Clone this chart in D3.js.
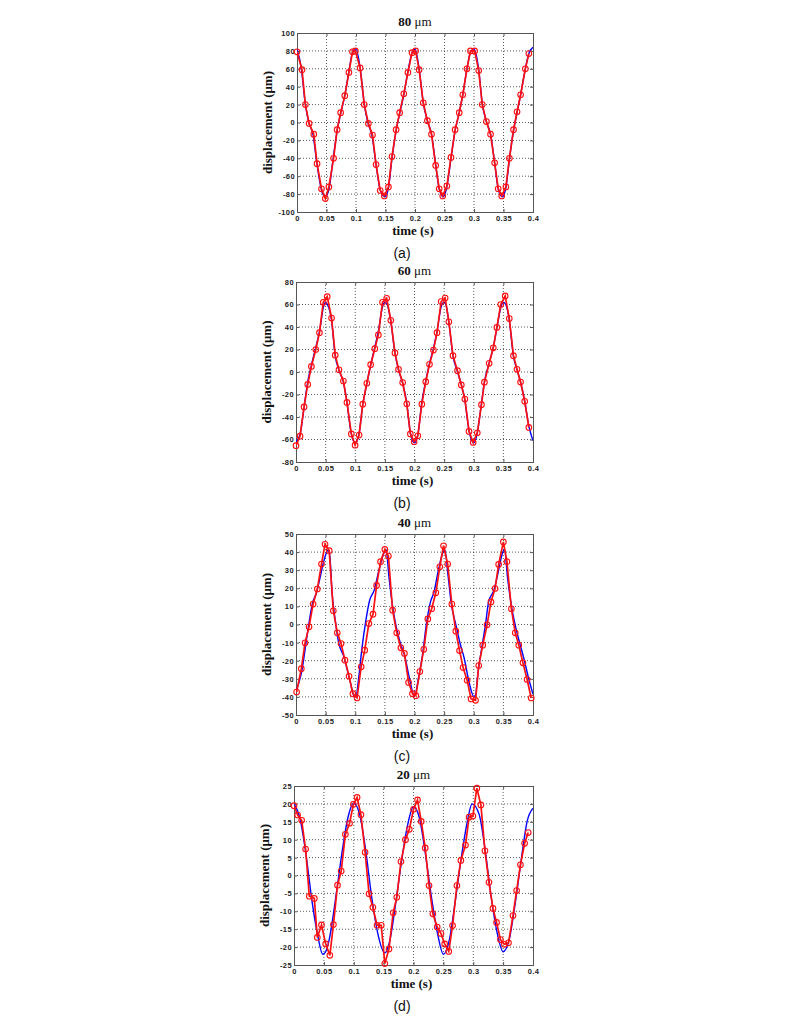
<!DOCTYPE html>
<html>
<head>
<meta charset="utf-8">
<script src="https://cdn.jsdelivr.net/npm/d3@7"></script>
<style>
  html, body { margin: 0; padding: 0; background: #fff; }
  svg { display: block; }
</style>
</head>
<body>
<svg id="chart" width="800" height="1017"></svg>
<script>
// ---------- data ----------
const panelTitles = ["80", "60", "40", "20"];
const panelCaptions = ["(a)", "(b)", "(c)", "(d)"];
const xTicks = [0, 0.05, 0.1, 0.15, 0.2, 0.25, 0.3, 0.35, 0.4];
const yTicksA = [-100, -80, -60, -40, -20, 0, 20, 40, 60, 80, 100];
const yTicksB = [-80, -60, -40, -20, 0, 20, 40, 60, 80];
const yTicksC = [-50, -40, -30, -20, -10, 0, 10, 20, 30, 40, 50];
const yTicksD = [-25, -20, -15, -10, -5, 0, 5, 10, 15, 20, 25];

// measured (red, circles) : [time s, displacement um]
const measuredA = [[0,79],[0.0085,59],[0.0142,20],[0.0205,-1],[0.0284,-13],[0.034,-46],[0.0415,-74],[0.048,-85],[0.054,-72],[0.062,-40],[0.068,-8],[0.074,11],[0.081,30],[0.088,56],[0.094,79],[0.099,80],[0.107,61],[0.114,20],[0.121,-1],[0.128,-14],[0.134,-47],[0.141,-76],[0.148,-82],[0.155,-72],[0.161,-38],[0.168,-8],[0.174,11],[0.181,32],[0.188,56],[0.195,78],[0.201,80],[0.207,59],[0.214,22],[0.221,2],[0.228,-13],[0.235,-48],[0.241,-74],[0.247,-82],[0.254,-71],[0.261,-39],[0.268,-8],[0.275,11],[0.281,31],[0.288,60],[0.294,80],[0.301,80],[0.308,58],[0.314,20],[0.321,1],[0.328,-13],[0.335,-45],[0.341,-74],[0.347,-82],[0.354,-72],[0.36,-40],[0.367,-8],[0.373,12],[0.379,31],[0.387,60],[0.393,77]];
const measuredB = [[0,-65.5],[0.0068,-57],[0.0136,-31],[0.0198,-11],[0.026,5],[0.0334,20],[0.0396,35],[0.046,62],[0.0527,67],[0.06,48],[0.0662,15],[0.0725,2],[0.08,-8],[0.086,-27],[0.0934,-55],[0.0997,-65],[0.1065,-56],[0.1127,-28.6],[0.1195,-10],[0.126,6.5],[0.133,20.7],[0.139,33],[0.146,62],[0.153,65.5],[0.16,46],[0.167,17],[0.173,2.4],[0.18,-9.4],[0.187,-28.3],[0.193,-55],[0.1994,-62],[0.2056,-56.7],[0.2124,-28.6],[0.219,-8.6],[0.2253,6.8],[0.232,19.5],[0.238,35],[0.245,62.6],[0.2517,65.8],[0.258,44.6],[0.265,14.5],[0.2725,1.2],[0.279,-11.5],[0.285,-24],[0.292,-52.8],[0.299,-62.6],[0.306,-54],[0.313,-29],[0.318,-9],[0.326,7.7],[0.333,21.5],[0.339,39.6],[0.3455,60],[0.353,67.6],[0.36,47.5],[0.367,14.5],[0.373,2.4],[0.379,-8.9],[0.386,-26],[0.393,-49.3]];
const measuredC = [[0.001,-37.3],[0.009,-24.4],[0.0153,-10.1],[0.022,-1.3],[0.0289,11.3],[0.036,19.6],[0.043,33.4],[0.049,44.3],[0.056,40.8],[0.063,7.6],[0.0697,-4.6],[0.076,-10.5],[0.0827,-19.7],[0.0895,-28.6],[0.096,-38.2],[0.103,-40.6],[0.11,-23.4],[0.116,-14.2],[0.123,0.5],[0.13,5.7],[0.136,21.6],[0.1427,34.7],[0.15,41.5],[0.156,37.8],[0.163,7.9],[0.17,-4.6],[0.177,-12.9],[0.183,-16],[0.19,-32],[0.1966,-38.2],[0.2022,-39.3],[0.209,-26],[0.2157,-13.7],[0.2225,3.1],[0.229,8.7],[0.236,17.5],[0.2427,31.9],[0.249,43.5],[0.256,33.4],[0.263,11.3],[0.2697,-3.7],[0.276,-14.4],[0.282,-23.8],[0.2888,-30.8],[0.2955,-41.1],[0.303,-41.9],[0.3084,-22.7],[0.3152,-11.4],[0.3225,-0.2],[0.329,12.5],[0.336,19.9],[0.342,33.2],[0.35,45.6],[0.356,34.7],[0.3635,8.7],[0.37,-4.6],[0.376,-11.4],[0.383,-21.2],[0.39,-30.4],[0.397,-40.6]];
const measuredD = [[0,19.5],[0.0061,16.9],[0.0128,15.4],[0.0194,7.4],[0.0256,-5.8],[0.034,-6.4],[0.039,-17.3],[0.046,-13.8],[0.053,-19.1],[0.06,-22.3],[0.066,-13.7],[0.0728,-2.7],[0.079,1.25],[0.086,11.5],[0.093,14.6],[0.0994,19.9],[0.1056,21.8],[0.112,17],[0.119,6.5],[0.1256,-5.1],[0.132,-8.9],[0.139,-13.9],[0.146,-13.9],[0.152,-24.6],[0.159,-20.5],[0.166,-10.4],[0.172,-6.1],[0.179,3.9],[0.1866,10],[0.193,12.9],[0.2,18.5],[0.2067,21.1],[0.213,15.1],[0.2196,7.7],[0.226,-2.8],[0.2324,-10.7],[0.2397,-14.4],[0.246,-16.2],[0.2522,-19.1],[0.259,-21.2],[0.2654,-14],[0.2726,-2.8],[0.2793,4.2],[0.287,8.5],[0.293,16.3],[0.2994,16.6],[0.306,24.4],[0.3128,19.7],[0.3196,6.9],[0.3263,-1.9],[0.333,-9.2],[0.339,-13.1],[0.3455,-17.9],[0.352,-19.2],[0.359,-18.8],[0.3665,-11.2],[0.3726,-4.2],[0.379,3],[0.386,9],[0.392,12]];

// reference (blue line) : [time s, displacement um]
const referenceA = [[0,82],[0.007,62],[0.014,21],[0.02,0],[0.027,-13],[0.034,-47],[0.041,-74],[0.048,-83],[0.054,-75],[0.061,-42],[0.068,-9],[0.074,10],[0.081,30],[0.088,57],[0.094,78],[0.1,82],[0.107,61],[0.114,21],[0.12,0],[0.127,-14],[0.134,-47],[0.141,-75],[0.149,-83],[0.155,-73],[0.161,-40],[0.168,-9],[0.174,10],[0.181,31],[0.188,57],[0.195,78],[0.2,82],[0.207,60],[0.214,22],[0.221,2],[0.228,-13],[0.235,-47],[0.241,-74],[0.248,-83],[0.254,-72],[0.261,-40],[0.268,-9],[0.275,11],[0.281,31],[0.288,60],[0.295,80],[0.3,82],[0.308,59],[0.314,21],[0.321,1],[0.328,-13],[0.335,-45],[0.341,-74],[0.348,-83],[0.354,-73],[0.36,-41],[0.367,-9],[0.373,11],[0.379,31],[0.387,60],[0.393,77],[0.4,84]];
const referenceB = [[0,-62],[0.007,-55],[0.014,-30],[0.02,-8],[0.026,6],[0.033,21],[0.04,37],[0.046,57],[0.05,62],[0.053,60],[0.06,46],[0.066,15],[0.073,1],[0.08,-9],[0.086,-27],[0.093,-54],[0.1,-63],[0.106,-56],[0.113,-28],[0.12,-9],[0.126,6],[0.133,22],[0.139,36],[0.146,58],[0.15,62],[0.154,60],[0.16,45],[0.167,17],[0.173,2],[0.18,-10],[0.187,-28],[0.193,-54],[0.2,-63],[0.206,-55],[0.212,-28],[0.219,-8],[0.225,7],[0.232,21],[0.238,36],[0.245,58],[0.25,62],[0.253,60],[0.258,44],[0.265,14],[0.272,1],[0.279,-11],[0.285,-25],[0.292,-52],[0.3,-63],[0.306,-54],[0.313,-28],[0.318,-9],[0.326,8],[0.333,22],[0.339,39],[0.346,58],[0.35,62],[0.354,60],[0.36,46],[0.367,14],[0.373,2],[0.379,-9],[0.386,-26],[0.393,-48],[0.4,-61]];
const referenceC = [[0,-37],[0.009,-27],[0.0215,0],[0.028,12],[0.034,17],[0.04,25],[0.047,35],[0.054,41],[0.057,38],[0.061,17],[0.066,3],[0.072,-10],[0.081,-18],[0.091,-31],[0.099,-40],[0.101,-40],[0.106,-29],[0.111,-14],[0.118,2.4],[0.124,13],[0.132,19],[0.14,30],[0.149,40],[0.152,41.5],[0.157,26],[0.163,10],[0.169,-1],[0.175,-9],[0.184,-18],[0.191,-29],[0.2,-39.7],[0.207,-29],[0.213,-18],[0.221,2.4],[0.227,12.5],[0.233,18],[0.239,28],[0.247,39],[0.251,41.5],[0.257,26],[0.262,11.6],[0.27,-0.4],[0.277,-10.5],[0.284,-18.8],[0.292,-31.7],[0.3,-39.7],[0.303,-39],[0.307,-27],[0.313,-14],[0.32,0.5],[0.325,12.5],[0.334,19],[0.342,30],[0.348,39],[0.352,41.5],[0.357,26],[0.363,11.6],[0.37,-0.4],[0.377,-9.6],[0.384,-18],[0.392,-29],[0.4,-38.5]];
const referenceD = [[0,20],[0.01,16],[0.02,6],[0.03,-7],[0.04,-17],[0.048,-22],[0.055,-20.5],[0.06,-17],[0.07,-6],[0.08,6],[0.09,16],[0.1,20.2],[0.11,17],[0.12,7],[0.13,-6],[0.14,-16],[0.152,-21.6],[0.16,-18.5],[0.17,-8],[0.18,4],[0.19,14],[0.2,19.2],[0.21,16],[0.22,6],[0.23,-6],[0.24,-16],[0.25,-22],[0.26,-18],[0.27,-7],[0.28,5],[0.29,15],[0.298,20],[0.31,17],[0.32,7],[0.33,-6],[0.34,-16],[0.35,-21.3],[0.36,-18],[0.37,-8],[0.38,4],[0.39,15],[0.4,18.8]];

// ---------- layout ----------
const panels = [
  { title: panelTitles[0], caption: panelCaptions[0], yTicks: yTicksA, measured: measuredA, reference: referenceA, box: { l: 297, r: 533, t: 33, b: 212 } },
  { title: panelTitles[1], caption: panelCaptions[1], yTicks: yTicksB, measured: measuredB, reference: referenceB, box: { l: 296, r: 533, t: 282, b: 462 } },
  { title: panelTitles[2], caption: panelCaptions[2], yTicks: yTicksC, measured: measuredC, reference: referenceC, box: { l: 296, r: 533, t: 534, b: 715 } },
  { title: panelTitles[3], caption: panelCaptions[3], yTicks: yTicksD, measured: measuredD, reference: referenceD, box: { l: 294, r: 533, t: 786, b: 965 } }
];

const svg = d3.select("#chart");
const serif = "'Liberation Serif', 'Times New Roman', serif";
const sans = "'Liberation Sans', Arial, sans-serif";
const fmt = v => String(+v.toFixed(2)).replace("\u2212", "-");

panels.forEach((p, i) => {
  const { l, r, t, b } = p.box;
  const x = d3.scaleLinear().domain([0, 0.4]).range([l, r]);
  const y = d3.scaleLinear().domain(d3.extent(p.yTicks)).range([b, t]);
  const g = svg.append("g");

  const clipId = "clip" + i;
  g.append("clipPath").attr("id", clipId)
    .append("rect").attr("x", l).attr("y", t).attr("width", r - l).attr("height", b - t);

  // grid
  const grid = g.append("g").attr("stroke", "#222").attr("stroke-width", 0.75).attr("stroke-dasharray", "1,2");
  xTicks.slice(1, -1).forEach(v => grid.append("line").attr("x1", x(v)).attr("x2", x(v)).attr("y1", t).attr("y2", b));
  p.yTicks.slice(1, -1).forEach(v => grid.append("line").attr("x1", l).attr("x2", r).attr("y1", y(v)).attr("y2", y(v)));

  // axes with inward ticks
  const axB = g.append("g").attr("transform", `translate(0,${b})`)
    .call(d3.axisBottom(x).tickValues(xTicks).tickSize(-3).tickPadding(4).tickFormat(fmt));
  const axL = g.append("g").attr("transform", `translate(${l},0)`)
    .call(d3.axisLeft(y).tickValues(p.yTicks).tickSize(-3).tickPadding(2).tickFormat(fmt));
  const axT = g.append("g").attr("transform", `translate(0,${t})`)
    .call(d3.axisTop(x).tickValues(xTicks).tickSize(-3).tickFormat(""));
  const axR = g.append("g").attr("transform", `translate(${r},0)`)
    .call(d3.axisRight(y).tickValues(p.yTicks).tickSize(-3).tickFormat(""));
  [axB, axL, axT, axR].forEach(a => {
    a.select(".domain").attr("stroke", "#555").attr("stroke-width", 1);
    a.selectAll(".tick line").attr("stroke", "#555");
    a.selectAll("text").attr("font-family", sans).attr("font-weight", "bold")
      .attr("font-size", 7.5).attr("letter-spacing", 0.4).attr("fill", "#222");
  });

  // reference (blue) line
  const plot = g.append("g").attr("clip-path", `url(#${clipId})`);
  plot.append("path").datum(p.reference)
    .attr("fill", "none").attr("stroke", "#0000ff").attr("stroke-width", 1.4)
    .attr("d", d3.line().x(d => x(d[0])).y(d => y(d[1])).curve(d3.curveMonotoneX));

  // measured (red) line and circles
  plot.append("path").datum(p.measured)
    .attr("fill", "none").attr("stroke", "#ff1010").attr("stroke-width", 1.7)
    .attr("d", d3.line().x(d => x(d[0])).y(d => y(d[1])));
  g.append("g").selectAll("circle").data(p.measured).join("circle")
    .attr("cx", d => x(d[0])).attr("cy", d => y(d[1])).attr("r", 2.8)
    .attr("fill", "none").attr("stroke", "#ff1010").attr("stroke-width", 1.1);

  const cx = (l + r) / 2;
  // title
  const tt = g.append("text").attr("x", cx).attr("y", t - 7).attr("text-anchor", "middle")
    .attr("font-family", serif).attr("font-size", 13).attr("fill", "#111");
  tt.append("tspan").attr("font-weight", "bold").text(p.title + " ");
  tt.append("tspan").text("\u03bcm");

  // x label
  g.append("text").attr("x", cx - 2).attr("y", b + 23).attr("text-anchor", "middle")
    .attr("font-family", serif).attr("font-weight", "bold").attr("font-size", 13).attr("fill", "#111")
    .text("time (s)");

  // y label
  g.append("text").attr("transform", `translate(${l - 25},${(t + b) / 2}) rotate(-90)`)
    .attr("text-anchor", "middle")
    .attr("font-family", serif).attr("font-weight", "bold").attr("font-size", 13).attr("fill", "#111")
    .text("displacement (\u03bcm)");

  // caption
  g.append("text").attr("x", 402).attr("y", b + 46).attr("text-anchor", "middle")
    .attr("font-family", sans).attr("font-size", 14).attr("fill", "#111")
    .text(p.caption);
});
</script>
</body>
</html>
